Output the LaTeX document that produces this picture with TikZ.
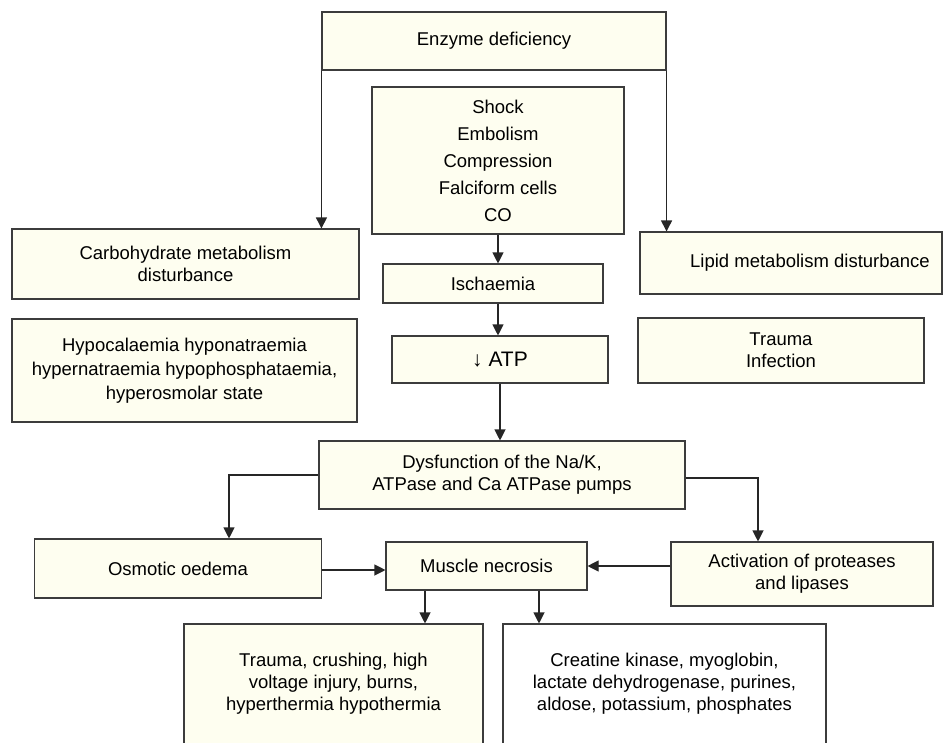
\documentclass[tikz,border=0pt]{standalone}
\usepackage{fontspec}
\setmainfont{Liberation Sans}
\usetikzlibrary{arrows.meta,calc}
\definecolor{boxfill}{RGB}{254,254,240}
\definecolor{boxline}{RGB}{60,60,60}
\begin{document}
\begin{tikzpicture}[x=1pt,y=-1pt,
  box/.style={draw=boxline, line width=1.1pt, fill=boxfill, inner sep=0pt, align=center,
    font=\fontsize{18.5}{22}\selectfont},
  arr/.style={draw=black!85, line width=1.1pt, -{Triangle[length=11pt,width=11pt]}}]
\useasboundingbox (0,0) rectangle (945,742);
\clip (0,0) rectangle (945,742);
% boxes
\node[box, minimum width=344, minimum height=58] (enz) at (494,41) {Enzyme deficiency};
\node[box, minimum width=252, minimum height=147, font=\fontsize{18.5}{27}\selectfont] (shock) at (498,160.5)
  {Shock\\Embolism\\Compression\\Falciform cells\\CO};
\node[box, minimum width=347, minimum height=70] (carb) at (185.5,264) {Carbohydrate metabolism\\disturbance};
\node[box, minimum width=345, minimum height=103, font=\fontsize{18.5}{24}\selectfont] (hypo) at (184.5,370.5)
  {Hypocalaemia hyponatraemia\\hypernatraemia hypophosphataemia,\\hyperosmolar state};
\node[box, minimum width=302, minimum height=62] (lipid) at (791,263) {\hspace*{38pt}Lipid metabolism disturbance};
\node[box, minimum width=286, minimum height=65] (trinf) at (781,350.5) {Trauma\\Infection};
\node[box, minimum width=220, minimum height=39] (isch) at (493,283.5) {Ischaemia};
\node[box, minimum width=216, minimum height=47, font=\fontsize{21}{25}\selectfont] (atp) at (500,359.5) {↓ ATP};
\node[box, minimum width=366, minimum height=68] (dys) at (502,475)
  {Dysfunction of the Na/K,\\ATPase and Ca ATPase pumps};
\node[box, minimum width=287, minimum height=59] (osm) at (178,568.5) {Osmotic oedema};
\node[box, minimum width=201, minimum height=48] (mus) at (486.5,566) {Muscle necrosis};
\node[box, minimum width=262, minimum height=64] (act) at (802,574) {Activation of proteases\\and lipases};
\node[box, minimum width=299, minimum height=182] (trb) at (333.5,715)
  {Trauma, crushing, high\\voltage injury, burns,\\hyperthermia hypothermia\\\mbox{}\\\mbox{}\\\mbox{}};
\node[box, fill=white, minimum width=323, minimum height=182] (crk) at (664.5,715)
  {Creatine kinase, myoglobin,\\lactate dehydrogenase, purines,\\aldose, potassium, phosphates\\\mbox{}\\\mbox{}\\\mbox{}};
% connectors
\draw[arr] (enz.south west) -- (enz.south west |- carb.north);
\draw[arr] (enz.south east) -- (enz.south east |- lipid.north);
\draw[arr] (shock.south) -- (shock.south |- isch.north);
\draw[arr] (shock.south |- isch.south) -- (shock.south |- atp.north);
\draw[arr] (atp.south) -- (atp.south |- dys.north);
\draw[arr] (dys.west) -| ([xshift=51pt]osm.north);
\draw[arr] ([yshift=-3pt]dys.east) -| ([xshift=-44pt]act.north);
\draw[arr] (osm.east |- 0,570) -- (mus.west |- 0,570);
\draw[arr] (act.west |- mus.east) -- (mus.east);
\draw[arr] ([xshift=-61.5pt]mus.south) -- ([xshift=-61.5pt]mus.south |- trb.north);
\draw[arr] ([xshift=52.5pt]mus.south) -- ([xshift=52.5pt]mus.south |- crk.north);
\end{tikzpicture}
\end{document}
